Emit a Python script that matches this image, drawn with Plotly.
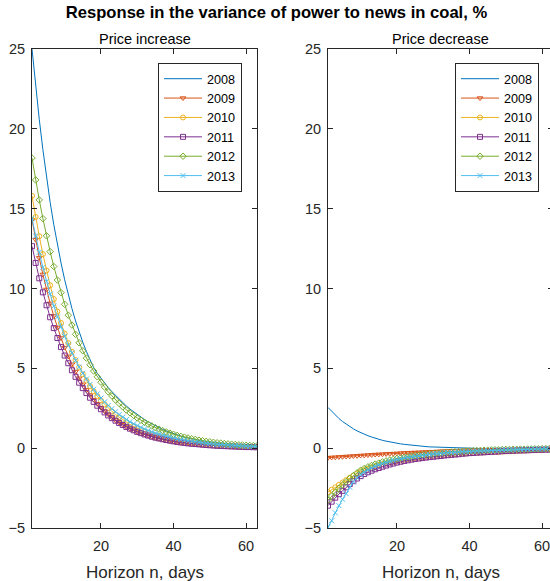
import plotly.graph_objects as go

horizon = list(range(1, 64))
years = ["2008", "2009", "2010", "2011", "2012", "2013"]

inc_2008 = [25.0, 22.7, 20.6, 18.7, 17.0, 15.4, 14.0, 12.75, 11.6, 10.55,
            9.6, 8.75, 7.97, 7.27, 6.63, 6.05, 5.52, 5.04, 4.68, 4.37,
            4.07, 3.8, 3.54, 3.3, 3.06, 2.84, 2.64, 2.45, 2.27, 2.1,
            1.94, 1.79, 1.65, 1.52, 1.4, 1.29, 1.18, 1.08, 0.99, 0.9,
            0.83, 0.76, 0.69, 0.63, 0.58, 0.53, 0.48, 0.44, 0.4, 0.37,
            0.34, 0.31, 0.28, 0.25, 0.23, 0.21, 0.19, 0.17, 0.15, 0.14,
            0.13, 0.12, 0.11]
inc_2009 = [14.3, 13.06, 11.92, 10.88, 9.94, 9.07, 8.28, 7.56, 6.9, 6.3,
            5.75, 5.25, 4.8, 4.38, 4.0, 3.65, 3.33, 3.04, 2.78, 2.54,
            2.32, 2.12, 1.93, 1.76, 1.61, 1.47, 1.34, 1.23, 1.12, 1.02,
            0.93, 0.85, 0.78, 0.71, 0.65, 0.59, 0.54, 0.49, 0.45, 0.41,
            0.38, 0.34, 0.31, 0.29, 0.26, 0.24, 0.22, 0.2, 0.18, 0.17,
            0.15, 0.14, 0.13, 0.12, 0.11, 0.1, 0.09, 0.08, 0.07, 0.07,
            0.06, 0.06, 0.05]
inc_2010 = [15.8, 14.48, 13.27, 12.15, 11.13, 10.2, 9.34, 8.56, 7.84, 7.18,
            6.58, 6.03, 5.52, 5.06, 4.63, 4.24, 3.89, 3.56, 3.26, 2.99,
            2.74, 2.51, 2.3, 2.1, 1.93, 1.77, 1.62, 1.48, 1.36, 1.24,
            1.14, 1.04, 0.96, 0.88, 0.8, 0.74, 0.68, 0.62, 0.57, 0.52,
            0.48, 0.44, 0.4, 0.37, 0.34, 0.31, 0.28, 0.26, 0.24, 0.22,
            0.2, 0.18, 0.17, 0.15, 0.14, 0.13, 0.12, 0.11, 0.1, 0.09,
            0.08, 0.08, 0.07]
inc_2011 = [12.65, 11.6, 10.64, 9.76, 8.95, 8.2, 7.52, 6.9, 6.33, 5.8,
            5.32, 4.88, 4.47, 4.1, 3.76, 3.45, 3.16, 2.9, 2.66, 2.44,
            2.24, 2.05, 1.88, 1.72, 1.58, 1.45, 1.33, 1.22, 1.12, 1.02,
            0.94, 0.86, 0.79, 0.72, 0.66, 0.61, 0.56, 0.51, 0.47, 0.43,
            0.39, 0.36, 0.33, 0.3, 0.28, 0.26, 0.24, 0.22, 0.2, 0.18,
            0.17, 0.15, 0.14, 0.13, 0.12, 0.11, 0.1, 0.09, 0.08, 0.07,
            0.07, 0.06, 0.06]
inc_2012 = [18.17, 16.8, 15.55, 14.38, 13.3, 12.31, 11.38, 10.53, 9.74, 9.01,
            8.33, 7.71, 7.13, 6.6, 6.1, 5.64, 5.22, 4.83, 4.47, 4.13,
            3.82, 3.53, 3.27, 3.02, 2.8, 2.59, 2.39, 2.21, 2.05, 1.89,
            1.75, 1.62, 1.5, 1.39, 1.28, 1.19, 1.1, 1.02, 0.94, 0.87,
            0.8, 0.74, 0.69, 0.64, 0.59, 0.55, 0.5, 0.47, 0.43, 0.4,
            0.37, 0.34, 0.32, 0.29, 0.27, 0.25, 0.23, 0.21, 0.2, 0.18,
            0.17, 0.16, 0.15]
inc_2013 = [14.4, 13.29, 12.27, 11.32, 10.45, 9.65, 8.9, 8.22, 7.58, 7.0,
            6.46, 5.96, 5.5, 5.08, 4.69, 4.33, 3.99, 3.69, 3.4, 3.14,
            2.9, 2.67, 2.47, 2.28, 2.1, 1.94, 1.79, 1.65, 1.52, 1.41,
            1.3, 1.2, 1.1, 1.02, 0.94, 0.87, 0.8, 0.74, 0.68, 0.63,
            0.58, 0.54, 0.5, 0.46, 0.42, 0.39, 0.36, 0.33, 0.31, 0.28,
            0.26, 0.24, 0.22, 0.2, 0.19, 0.17, 0.16, 0.15, 0.14, 0.13,
            0.12, 0.11, 0.1]

dec_2008 = [2.55, 2.3, 2.07, 1.86, 1.67, 1.5, 1.35, 1.21, 1.08, 0.97,
            0.87, 0.78, 0.7, 0.62, 0.55, 0.49, 0.44, 0.39, 0.35, 0.31,
            0.27, 0.24, 0.21, 0.18, 0.16, 0.14, 0.12, 0.1, 0.08, 0.07,
            0.06, 0.05, 0.04, 0.03, 0.02, 0.01, 0.0, 0.0, -0.01, -0.01,
            -0.01, -0.02, -0.02, -0.02, -0.02, -0.02, -0.02, -0.02, -0.02, -0.02,
            -0.02, -0.02, -0.02, -0.02, -0.02, -0.02, -0.02, -0.02, -0.01, -0.01,
            -0.01, -0.01, -0.01]
dec_2009 = [-0.6, -0.58, -0.57, -0.55, -0.54, -0.52, -0.51, -0.49, -0.48, -0.46,
            -0.45, -0.43, -0.42, -0.4, -0.39, -0.38, -0.36, -0.35, -0.34, -0.33,
            -0.31, -0.3, -0.29, -0.28, -0.27, -0.26, -0.25, -0.24, -0.23, -0.22,
            -0.21, -0.2, -0.19, -0.18, -0.17, -0.17, -0.16, -0.15, -0.14, -0.14,
            -0.13, -0.12, -0.12, -0.11, -0.11, -0.1, -0.1, -0.09, -0.09, -0.08,
            -0.08, -0.07, -0.07, -0.07, -0.06, -0.06, -0.06, -0.05, -0.05, -0.05,
            -0.05, -0.04, -0.04]
dec_2010 = [-2.75, -2.6, -2.45, -2.3, -2.15, -2.0, -1.85, -1.72, -1.59, -1.47,
            -1.37, -1.28, -1.2, -1.13, -1.06, -1.0, -0.95, -0.9, -0.85, -0.8,
            -0.76, -0.72, -0.68, -0.65, -0.62, -0.59, -0.56, -0.54, -0.51, -0.49,
            -0.47, -0.45, -0.43, -0.41, -0.39, -0.37, -0.36, -0.34, -0.33, -0.31,
            -0.3, -0.29, -0.27, -0.26, -0.25, -0.24, -0.23, -0.22, -0.21, -0.2,
            -0.19, -0.18, -0.17, -0.16, -0.15, -0.14, -0.13, -0.12, -0.11, -0.1,
            -0.09, -0.09, -0.08]
dec_2011 = [-3.6, -3.35, -3.1, -2.88, -2.67, -2.45, -2.25, -2.07, -1.9, -1.75,
            -1.62, -1.51, -1.41, -1.32, -1.24, -1.16, -1.09, -1.02, -0.96, -0.9,
            -0.85, -0.8, -0.76, -0.72, -0.68, -0.65, -0.62, -0.59, -0.56, -0.54,
            -0.51, -0.49, -0.46, -0.44, -0.42, -0.4, -0.38, -0.35, -0.33, -0.31,
            -0.3, -0.28, -0.27, -0.26, -0.24, -0.23, -0.22, -0.21, -0.19, -0.18,
            -0.17, -0.16, -0.15, -0.14, -0.14, -0.13, -0.12, -0.11, -0.1, -0.1,
            -0.09, -0.09, -0.08]
dec_2012 = [-3.26, -3.0, -2.76, -2.52, -2.3, -2.1, -1.9, -1.72, -1.55, -1.38,
            -1.27, -1.17, -1.08, -1.0, -0.93, -0.86, -0.8, -0.75, -0.7, -0.65,
            -0.61, -0.57, -0.53, -0.5, -0.47, -0.44, -0.41, -0.39, -0.36, -0.33,
            -0.31, -0.29, -0.27, -0.26, -0.24, -0.23, -0.21, -0.2, -0.18, -0.17,
            -0.16, -0.15, -0.14, -0.13, -0.12, -0.11, -0.1, -0.1, -0.09, -0.08,
            -0.08, -0.07, -0.07, -0.06, -0.06, -0.05, -0.05, -0.04, -0.04, -0.03,
            -0.03, -0.03, -0.02]
dec_2013 = [-4.95, -4.55, -4.05, -3.6, -3.2, -2.85, -2.45, -2.1, -1.85, -1.65,
            -1.5, -1.36, -1.24, -1.13, -1.04, -0.96, -0.89, -0.82, -0.76, -0.7,
            -0.66, -0.62, -0.58, -0.54, -0.51, -0.48, -0.45, -0.42, -0.39, -0.36,
            -0.34, -0.32, -0.3, -0.28, -0.27, -0.25, -0.24, -0.22, -0.21, -0.2,
            -0.19, -0.18, -0.17, -0.16, -0.15, -0.14, -0.13, -0.12, -0.11, -0.1,
            -0.1, -0.09, -0.08, -0.08, -0.07, -0.07, -0.06, -0.06, -0.05, -0.05,
            -0.04, -0.04, -0.03]

y_ticks = [-5, 0, 5, 10, 15, 20, 25]
x_ticks = [20, 40, 60]

increase = [inc_2008, inc_2009, inc_2010, inc_2011, inc_2012, inc_2013]
decrease = [dec_2008, dec_2009, dec_2010, dec_2011, dec_2012, dec_2013]

colors = ["#0072BD", "#D95319", "#EDB120", "#7E2F8E", "#77AC30", "#4DBEEE"]
symbols = [None, "triangle-down-open", "circle-open", "square-open",
           "diamond-open", "x-thin-open"]

FONT = "Liberation Sans, Arial"

fig = go.Figure()
for data, xa, ya, leg in [(increase, "x", "y", "legend"),
                          (decrease, "x2", "y2", "legend2")]:
    for yr, vals, col, sym in zip(years, data, colors, symbols):
        if sym is None:
            mode = "lines"
            marker = None
        else:
            mode = "lines+markers"
            marker = dict(symbol=sym, size=5, color=col,
                          line=dict(width=1, color=col))
        fig.add_trace(go.Scatter(
            x=horizon, y=vals, name=yr, mode=mode,
            line=dict(color=col, width=1), marker=marker,
            xaxis=xa, yaxis=ya, legend=leg))

W, H = 553, 581
ml, mr, mt, mb = 32, 0, 49, 53
pw = W - ml - mr
ph = H - mt - mb

def px_x(p):
    return (p - ml) / pw

def px_y(p):
    return (H - mb - p) / ph

axis_common = dict(showline=True, linecolor="#262626", linewidth=1, mirror="ticks",
                   ticks="inside", ticklen=5, tickcolor="#262626", showgrid=False,
                   zeroline=False,
                   tickfont=dict(family=FONT, size=14.5, color="#262626"))

dom1 = [0, px_x(257)]
dom2 = [px_x(328), 1]

legend_common = dict(xanchor="left", yanchor="top",
                     bordercolor="#262626", borderwidth=1, bgcolor="white",
                     font=dict(size=12.6, color="black", family=FONT),
                     tracegroupgap=0, itemwidth=38)

fig.update_layout(
    width=W, height=H,
    margin=dict(l=ml, r=mr, t=mt, b=mb),
    paper_bgcolor="white", plot_bgcolor="white",
    font=dict(family=FONT, color="#262626"),
    xaxis=dict(domain=dom1, range=[1, 63], tickvals=x_ticks, ticklabelstandoff=5, **axis_common),
    yaxis=dict(domain=[0, 1], range=[-5, 25], tickvals=y_ticks, ticklabelstandoff=3, **axis_common),
    xaxis2=dict(domain=dom2, range=[1, 63], tickvals=x_ticks, anchor="y2", ticklabelstandoff=5, **axis_common),
    yaxis2=dict(domain=[0, 1], range=[-5, 25], tickvals=y_ticks, anchor="x2", ticklabelstandoff=3, **axis_common),
    legend=dict(x=px_x(158), y=px_y(63), **legend_common),
    legend2=dict(x=px_x(455), y=px_y(63), **legend_common),
    title=dict(text="<b>Response in the variance of power to news in coal, %</b>",
               x=0.5, xref="container", xanchor="center",
               y=1 - 12 / H, yref="container", yanchor="middle",
               font=dict(size=16.6, color="black", family=FONT)),
    showlegend=True,
)

ann = []
for dom, txt in [(dom1, "Price increase"), (dom2, "Price decrease")]:
    cx = (dom[0] + dom[1]) / 2
    ann.append(dict(text=txt, x=cx, y=px_y(39), xref="paper", yref="paper",
                    xanchor="center", yanchor="middle", showarrow=False,
                    font=dict(size=14.5, color="black", family=FONT)))
    ann.append(dict(text="Horizon n, days", x=cx, y=px_y(572), xref="paper", yref="paper",
                    xanchor="center", yanchor="middle", showarrow=False,
                    font=dict(size=17, color="#262626", family=FONT)))
fig.update_layout(annotations=ann)

fig.write_html("out.html",
               post_script="document.documentElement.style.overflow='hidden';document.body.style.overflow='hidden';")
